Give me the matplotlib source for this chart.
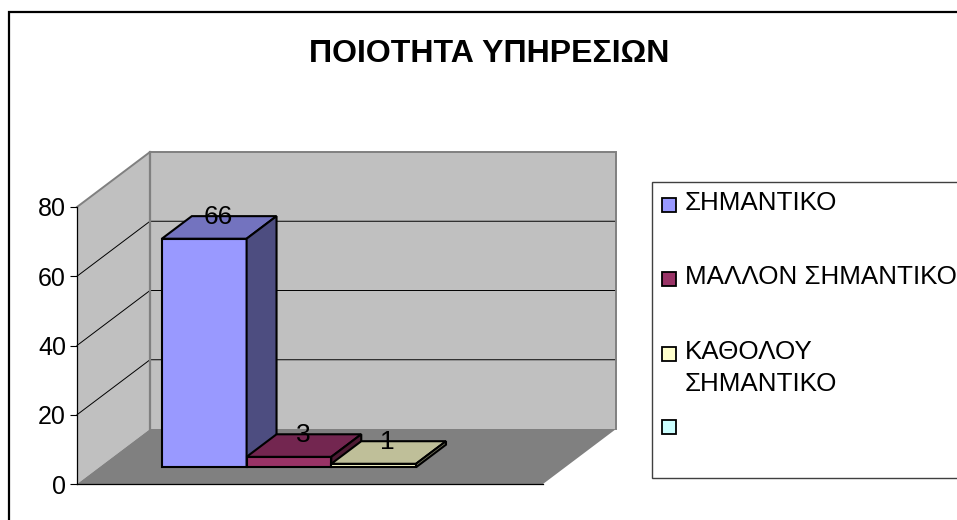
import matplotlib
matplotlib.use('Agg')
import matplotlib.pyplot as plt
from matplotlib.patches import Polygon, Rectangle
from matplotlib.lines import Line2D
from matplotlib.transforms import Affine2D, IdentityTransform

plt.rcParams['font.family'] = ['Liberation Sans', 'DejaVu Sans']

# data
title = 'ΠΟΙΟΤΗΤΑ ΥΠΗΡΕΣΙΩΝ'
series_names = ['ΣΗΜΑΝΤΙΚΟ', 'ΜΑΛΛΟΝ ΣΗΜΑΝΤΙΚΟ', 'ΚΑΘΟΛΟΥ\nΣΗΜΑΝΤΙΚΟ', '']
series_values = [66, 3, 1, None]
y_ticks = [0, 20, 40, 60, 80]

# colours
front_colors = ['#9999FF', '#993366', '#FFFFCC', '#CCFFFF']
top_colors = ['#7373BF', '#732650', '#BFBF99', '#99BFBF']
side_colors = ['#4D4D80', '#4D1A33', '#808066', '#668080']
wall_color = '#C0C0C0'
floor_color = '#808080'

W, H = 957, 520
fig = plt.figure(figsize=(W / 100, H / 100), dpi=100)

# image pixels (y going down) to display
px = Affine2D().scale(1, -1).translate(0, H)

# axes = front plane of the 3d box
ax = fig.add_axes([77 / W, 1 - 484 / H, 466 / W, 277 / H])
ax.set_xlim(0, 1)
ax.set_ylim(0, 80)
ax.patch.set_visible(False)
ax.set_xticks([])
ax.set_yticks(y_ticks)
ax.tick_params(axis='y', labelsize=18, length=5, width=0.8, pad=3)
ax.spines['top'].set_visible(False)
ax.spines['right'].set_visible(False)
ax.spines['left'].set_linewidth(0.9)
ax.spines['bottom'].set_linewidth(0.9)
ax.spines['left'].set_zorder(8)
ax.spines['bottom'].set_zorder(8)

DX, DY = 73, 55  # box depth in pixels


def pt(x, v, d=0):
    # data point pushed back by depth d (0 = front, 1 = back wall)
    a, b = ax.transData.transform((x, v))
    return (a + DX * d, b + DY * d)


def face(points, color, ec, lw, z):
    ax.add_patch(Polygon(points, closed=True, facecolor=color, edgecolor=ec,
                         linewidth=lw, transform=IdentityTransform(),
                         clip_on=False, zorder=z, joinstyle='miter'))


def wall_line(points, color, lw, z):
    xs = [p[0] for p in points]
    ys = [p[1] for p in points]
    ax.add_line(Line2D(xs, ys, color=color, linewidth=lw, transform=IdentityTransform(),
                       clip_on=False, zorder=z, solid_joinstyle='miter'))


# walls and floor
face([pt(0, 0, 1), pt(1, 0, 1), pt(1, 80, 1), pt(0, 80, 1)], wall_color, 'none', 0, 1)
face([pt(0, 0), pt(0, 0, 1), pt(0, 80, 1), pt(0, 80)], wall_color, 'none', 0, 1)
face([pt(0, 0), pt(1, 0), pt(1, 0, 1), pt(0, 0, 1)], floor_color, 'none', 0, 1.5)

# grid lines on side and back wall
for v in y_ticks[1:-1]:
    wall_line([pt(0, v), pt(0, v, 1), pt(1, v, 1)], 'black', 0.7, 1.2)

# grey wall outline
wall_line([pt(0, 80), pt(0, 80, 1), pt(1, 80, 1), pt(1, 0, 1)], '#808080', 1.4, 1.3)
wall_line([pt(0, 80, 1), pt(0, 0, 1)], '#808080', 1.6, 1.3)

# bars: 4 series, gap width 150%
n = len(series_values)
bar_w = 1 / (n + 1.5)
start = 0.75 * bar_w - 0.002
d0 = 0.305
d1 = 0.715
edge = 1.5
for i, val in enumerate(series_values):
    if val is None:
        continue
    x0 = start + i * bar_w
    x1 = x0 + bar_w
    z = 3 + i
    face([pt(x0, 0, d0), pt(x1, 0, d0), pt(x1, val, d0), pt(x0, val, d0)], front_colors[i], 'black', edge, z)
    face([pt(x0, val, d0), pt(x1, val, d0), pt(x1, val, d1), pt(x0, val, d1)], top_colors[i], 'black', edge, z)
    face([pt(x1, 0, d0), pt(x1, 0, d1), pt(x1, val, d1), pt(x1, val, d0)], side_colors[i], 'black', edge, z)
    # value label on the back edge of the bar top
    lx, ly = pt((x0 + x1) / 2, val, d1)
    ax.text(lx - 16, ly - 1, str(val), fontsize=19, ha='center', va='center',
            transform=IdentityTransform(), clip_on=False, zorder=10)

# title
fig.text(489 / W, 1 - 54 / H, title, fontsize=23, fontweight='bold', ha='center', va='center')

# outer chart border, runs off the image on the right and bottom
fig.add_artist(Line2D([9, 9, W + 5], [H + 5, 12, 12], color='black', linewidth=1.6,
                      transform=px, solid_joinstyle='miter'))

# legend
fig.add_artist(Rectangle((652, 182), 320, 296, facecolor='white', edgecolor='#404040',
                         linewidth=1.0, transform=px))
key_y = [205, 279, 354, 427]
text_y = [203, 277, 368, 427]
for name, color, ky, ty in zip(series_names, front_colors, key_y, text_y):
    fig.add_artist(Rectangle((662, ky - 7), 14, 14, facecolor=color, edgecolor='black',
                             linewidth=1.3, transform=px))
    fig.text(685 / W, 1 - ty / H, name, fontsize=18.7, ha='left', va='center', linespacing=1.43)

fig.savefig('out.png', dpi=100)
